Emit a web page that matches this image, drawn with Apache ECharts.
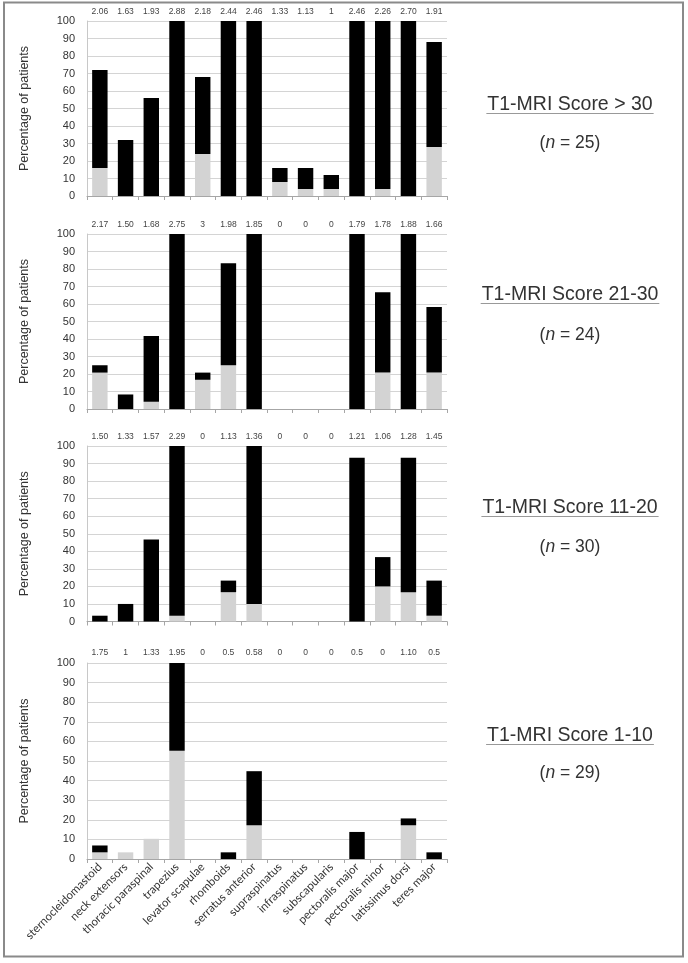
<!DOCTYPE html>
<html><head><meta charset="utf-8">
<script src="https://cdn.jsdelivr.net/npm/echarts@6/dist/echarts.min.js"></script>
<style>html,body{margin:0;padding:0;background:#fff}#c{width:688px;height:963px}</style>
</head><body><div id="c"></div>
<script>
const categories = ['sternocleidomastoid','neck extensors','thoracic paraspinal','trapezius','levator scapulae','rhomboids','serratus anterior','supraspinatus','infraspinatus','subscapularis','pectoralis major','pectoralis minor','latissimus dorsi','teres major'];

const totalP1 = [72,32,56,100,68,100,100,16,16,12,100,100,100,88];
const greyP1  = [16,0,0,0,24,0,0,8,4,4,0,4,0,28];
const totalP2 = [25,8.3,41.7,100,20.8,83.3,100,0,0,0,100,66.7,100,58.3];
const greyP2  = [20.8,0,4.2,0,16.7,25,0,0,0,0,0,20.8,0,20.8];
const totalP3 = [3.3,10,46.7,100,0,23.3,100,0,0,0,93.3,36.7,93.3,23.3];
const greyP3  = [0,0,0,3.3,0,16.7,10,0,0,0,0,20,16.7,3.3];
const totalP4 = [6.9,3.4,10.3,100,0,3.4,44.8,0,0,0,13.8,0,20.7,3.4];
const greyP4  = [3.4,3.4,10.3,55.2,0,0,17.2,0,0,0,0,0,17.2,0];

const scoresP1 = ['2.06','1.63','1.93','2.88','2.18','2.44','2.46','1.33','1.13','1','2.46','2.26','2.70','1.91'];
const scoresP2 = ['2.17','1.50','1.68','2.75','3','1.98','1.85','0','0','0','1.79','1.78','1.88','1.66'];
const scoresP3 = ['1.50','1.33','1.57','2.29','0','1.13','1.36','0','0','0','1.21','1.06','1.28','1.45'];
const scoresP4 = ['1.75','1','1.33','1.95','0','0.5','0.58','0','0','0','0.5','0','1.10','0.5'];

const panelTitles = ['T1-MRI Score > 30','T1-MRI Score 21-30','T1-MRI Score 11-20','T1-MRI Score 1-10'];
const panelN = ['25','24','30','29'];

const yTicks = {min:0, max:100, interval:10};

const totals = [totalP1,totalP2,totalP3,totalP4];
const greys = [greyP1,greyP2,greyP3,greyP4];
const scores = [scoresP1,scoresP2,scoresP3,scoresP4];

const layout = [
  {top:21, height:175, titleY:105, nY:143, lblMargin:5},
  {top:234, height:175, titleY:295, nY:335, lblMargin:5},
  {top:446, height:175.5, titleY:508, nY:547, lblMargin:5},
  {top:663, height:196, titleY:736, nY:773, lblMargin:6}
];
const gridLeft = 87, gridRight = 241;
const fontMain = 'Liberation Sans, Arial, sans-serif';

const grids=[], xAxes=[], yAxes=[], series=[], graphics=[];
layout.forEach((L,i)=>{
  grids.push({left:gridLeft, right:gridRight, top:L.top, height:L.height});
  xAxes.push({
    type:'category', gridIndex:i, data:categories, position:'bottom',
    axisLine:{show:true, lineStyle:{color:'#a6a6a6', width:1}},
    axisTick:{show:true, length:4, lineStyle:{color:'#a6a6a6'}},
    axisLabel:{show:i===3, interval:0, rotate:45, margin:6, fontSize:11.5, color:'#333', fontFamily:'Lato, sans-serif'},
    splitLine:{show:false}
  });
  yAxes.push({
    type:'value', gridIndex:i, min:yTicks.min, max:yTicks.max, interval:yTicks.interval,
    name:'Percentage of patients', nameLocation:'middle', nameGap:56,
    nameTextStyle:{fontSize:12.5, color:'#333', fontFamily:fontMain},
    axisLine:{show:true, lineStyle:{color:'#c8c8c8'}},
    axisTick:{show:false},
    axisLabel:{fontSize:11, color:'#333', margin:12, fontFamily:fontMain},
    splitLine:{show:true, lineStyle:{color:'#d4d4d4', width:1}}
  });
  series.push({
    type:'bar', xAxisIndex:i, yAxisIndex:i, stack:'s'+i, barWidth:'60%',
    data:greys[i], itemStyle:{color:'#d3d3d3'}, silent:true
  });
  series.push({
    type:'bar', xAxisIndex:i, yAxisIndex:i, stack:'s'+i, barWidth:'60%',
    data:totals[i].map((t,k)=>+(t-greys[i][k]).toFixed(2)), itemStyle:{color:'#000'}, silent:true
  });
});
layout.forEach((L,i)=>{
  xAxes.push({
    type:'category', gridIndex:i, data:scores[i], position:'top',
    axisLine:{show:false}, axisTick:{show:false},
    axisLabel:{interval:0, fontSize:8.5, color:'#444', margin:L.lblMargin, fontFamily:fontMain}
  });
});

// measure title widths for underline
const cv = document.createElement('canvas').getContext('2d');
const titleFont = 19.5;
cv.font = titleFont + 'px Liberation Sans';
const titleCx = 570;
layout.forEach((L,i)=>{
  const w = cv.measureText(panelTitles[i]).width;
  graphics.push({type:'text', x:titleCx, y:L.titleY, style:{text:panelTitles[i], fontSize:titleFont, fontFamily:fontMain, fill:'#333', align:'center', verticalAlign:'middle'}});
  graphics.push({type:'line', shape:{x1:titleCx-w/2-1, y1:L.titleY+8.5, x2:titleCx+w/2+1, y2:L.titleY+8.5}, style:{stroke:'#999', lineWidth:1}});
  graphics.push({type:'text', x:titleCx, y:L.nY, style:{text:'({i|n} = '+panelN[i]+')', fontSize:17.5, fontFamily:fontMain, fill:'#333', align:'center', verticalAlign:'middle', rich:{i:{fontStyle:'italic', fontSize:17.5, fontFamily:fontMain, fill:'#333'}}}});
});
graphics.push({type:'rect', shape:{x:4, y:2.5, width:679, height:954}, style:{fill:'none', stroke:'#8a8a8a', lineWidth:2}, z:-1});

const chart = echarts.init(document.getElementById('c'), null, {renderer:'canvas'});
chart.setOption({
  animation:false,
  grid:grids, xAxis:xAxes, yAxis:yAxes, series:series, graphic:graphics
});
</script></body></html>
